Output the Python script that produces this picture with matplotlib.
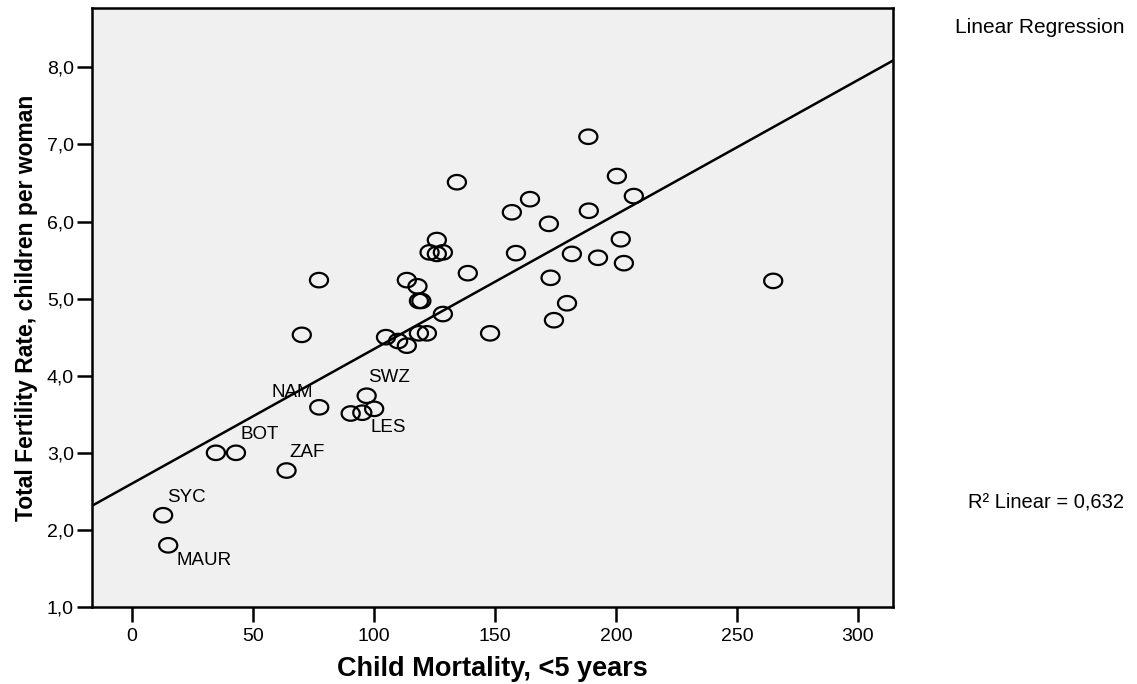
import numpy as np
import matplotlib
matplotlib.use("Agg")
import matplotlib.pyplot as plt
from matplotlib import font_manager
from matplotlib.path import Path

# Daten
mortality = [12.9, 15.0, 34.7, 43.0, 63.9, 77.4, 90.4, 95.2, 97.0, 100.1,
             70.2, 77.3, 105.0, 110.0, 113.6, 113.6, 118.0, 118.6, 119.6, 118.6,
             121.9, 123.0, 126.0, 128.5, 126.0, 128.5, 134.3, 138.8, 148.0, 157.0,
             158.7, 164.5, 172.3, 173.0, 174.4, 179.8, 181.8, 188.6, 188.8, 192.6,
             200.4, 202.0, 203.3, 207.4, 265.0]
fertility = [2.19, 1.80, 3.00, 3.00, 2.77, 3.59, 3.51, 3.52, 3.74, 3.57,
             4.53, 5.24, 4.50, 4.45, 4.39, 5.24, 5.16, 4.97, 4.97, 4.55,
             4.55, 5.60, 5.58, 5.60, 5.76, 4.80, 6.51, 5.33, 4.55, 6.12,
             5.59, 6.29, 5.97, 5.27, 4.72, 4.94, 5.58, 7.10, 6.14, 5.53,
             6.59, 5.77, 5.46, 6.33, 5.23]

# Beschriftete Länder: Index -> Kürzel
labels = {0: "SYC", 1: "MAUR", 3: "BOT", 4: "ZAF", 5: "NAM", 8: "SWZ", 9: "LES"}
# Versatz der Beschriftung in Pixeln (dx, dy, ha)
label_offsets = {"SYC": (4, 18, "left"), "MAUR": (8, -15, "left"), "BOT": (5, 18, "left"),
                 "ZAF": (3, 18, "left"), "NAM": (-6, 15, "right"), "SWZ": (1, 18, "left"),
                 "LES": (-4, -19, "left")}

xticks = [0, 50, 100, 150, 200, 250, 300]
yticks = [1.0, 2.0, 3.0, 4.0, 5.0, 6.0, 7.0, 8.0]
r2_text = "R\u00b2 Linear = 0,632"

available = {f.name for f in font_manager.fontManager.ttflist}
narrow = "Liberation Sans Narrow" if "Liberation Sans Narrow" in available else "Liberation Sans"
regular = "Liberation Sans"

fig = plt.figure(figsize=(11.37, 6.84), dpi=100)
ax = fig.add_axes([0.0809, 0.1126, 0.7045, 0.8757])
ax.set_facecolor("#f0f0f0")

# leicht ovaler Kreis als Marker
t = np.linspace(0, 2 * np.pi, 50)
ellipse = Path(np.column_stack([np.cos(t), 0.8 * np.sin(t)]), closed=True)

ax.scatter(mortality, fertility, marker=ellipse, s=170, facecolors="none",
           edgecolors="black", linewidths=1.6, zorder=3)

# Regressionsgerade
xlim = (-16.5, 314.5)
slope, intercept = np.polyfit(mortality, fertility, 1)
xs = np.array(xlim)
ax.plot(xs, intercept + slope * xs, color="black", lw=1.8, zorder=2)

for i, name in labels.items():
    dx, dy, ha = label_offsets[name]
    ax.annotate(name, (mortality[i], fertility[i]), xytext=(dx * 0.72, dy * 0.72),
                textcoords="offset points", ha=ha, va="center",
                fontsize=13.5, family=regular, zorder=4)

ax.set_xlim(*xlim)
ax.set_ylim(1.0, 8.77)
ax.set_xticks(xticks)
ax.set_xticklabels([str(v) for v in xticks])
ax.set_yticks(yticks)
ax.set_yticklabels([f"{v:.1f}".replace(".", ",") for v in yticks])
ax.tick_params(axis="both", direction="out", length=11, width=1.8, labelsize=14,
               colors="black")
ax.tick_params(axis="x", pad=4)
ax.tick_params(axis="y", pad=2)
for lab in ax.get_xticklabels() + ax.get_yticklabels():
    lab.set_family(narrow)
for sp in ax.spines.values():
    sp.set_linewidth(1.8)

ax.set_xlabel("Child Mortality, <5 years", fontsize=19.5, fontweight="bold",
              family=regular, labelpad=8)
ax.set_ylabel("Total Fertility Rate, children per woman", fontsize=16.5,
              fontweight="bold", family=narrow, labelpad=6)

fig.text(0.989, 0.960, "Linear Regression", ha="right", va="center",
         fontsize=15, family=regular)
fig.text(0.989, 0.266, r2_text, ha="right", va="center",
         fontsize=14.5, family=regular)

fig.savefig("out.png", dpi=100)
